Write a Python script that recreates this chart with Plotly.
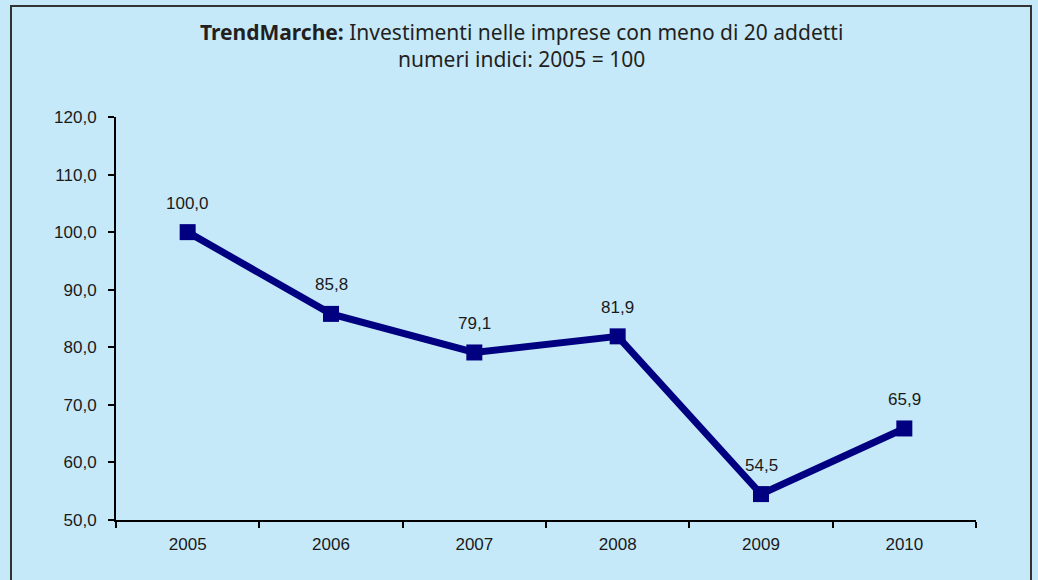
import plotly.graph_objects as go

years = ["2005", "2006", "2007", "2008", "2009", "2010"]
values = [100.0, 85.8, 79.1, 81.9, 54.5, 65.9]
y_ticks = [50, 60, 70, 80, 90, 100, 110, 120]
y_tick_labels = ["50,0", "60,0", "70,0", "80,0", "90,0", "100,0", "110,0", "120,0"]
value_labels = [f"{v:.1f}".replace(".", ",") for v in values]

BG = "#C6E9F9"
W, H = 1038, 580
L, R, T, B = 116, 62, 117, 60
pw, ph = W - L - R, H - T - B

fig = go.Figure()
fig.add_trace(go.Scatter(
    x=years, y=values, mode="lines+markers",
    line=dict(color="#000080", width=7),
    marker=dict(symbol="square", size=16, color="#000080"),
    hoverinfo="skip", showlegend=False,
))

for i, (y, t) in enumerate(zip(values, value_labels)):
    fig.add_annotation(x=i, y=y, text=t, showarrow=False, yshift=29,
                       font=dict(family="Liberation Sans, Arial", size=17, color="#1a1a1a"))

# title
fig.add_annotation(
    xref="paper", yref="paper", x=(521 - L) / pw, y=(H - B - 45) / ph,
    text="<b>TrendMarche:</b> Investimenti nelle imprese con meno di 20 addetti<br>numeri indici: 2005 = 100",
    showarrow=False, xanchor="center", yanchor="middle",
    font=dict(family="Noto Sans", size=21, color="#231F20"), align="center",
)

# frame border
fig.add_shape(type="rect", xref="paper", yref="paper",
              x0=(11 - L) / pw, x1=(1031 - L) / pw,
              y0=(H - B - 600) / ph, y1=(H - B - 6) / ph,
              line=dict(color="#333333", width=2), fillcolor="rgba(0,0,0,0)", layer="below")

fig.update_layout(
    width=W, height=H,
    margin=dict(l=L, r=R, t=T, b=B),
    paper_bgcolor=BG, plot_bgcolor=BG,
    font=dict(family="Liberation Sans, Arial", size=17, color="#1a1a1a"),
    xaxis=dict(type="category", range=[-0.5, 5.5], showline=True, linecolor="black", linewidth=2,
               ticks="outside", tickson="boundaries", ticklen=6, tickwidth=2, tickcolor="black",
               showgrid=False, zeroline=False, tickfont=dict(size=17), ticklabelstandoff=8),
    yaxis=dict(range=[50, 120], tickvals=y_ticks, ticktext=y_tick_labels,
               showline=True, linecolor="black", linewidth=2,
               ticks="outside", ticklen=6, tickwidth=2, tickcolor="black",
               showgrid=False, zeroline=False, tickfont=dict(size=17), ticklabelstandoff=8),
)

fig.write_html("out.html", config={"displayModeBar": False},
               post_script="document.body.style.margin='0';document.body.style.background='%s';" % BG)
